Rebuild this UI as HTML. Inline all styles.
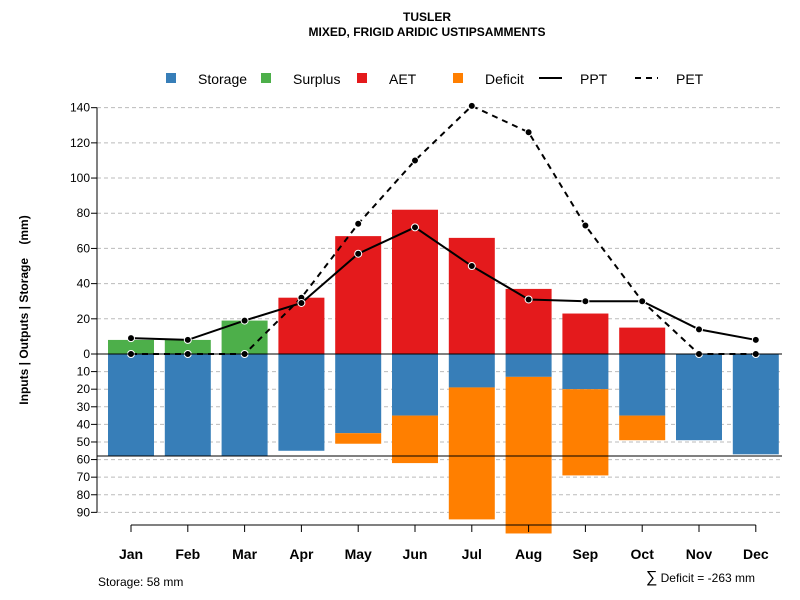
<!DOCTYPE html>
<html><head><meta charset="utf-8"><style>
body{margin:0;background:#fff;}
svg{display:block;font-family:"Liberation Sans",sans-serif;}
</style></head><body>
<svg id="c" width="800" height="600">
<text x="427" y="21" text-anchor="middle" font-size="12" font-weight="bold">TUSLER</text>
<text x="427" y="36" text-anchor="middle" font-size="12" font-weight="bold">MIXED, FRIGID ARIDIC USTIPSAMMENTS</text>
<g id="legend" font-size="14">
<rect x="166" y="73" width="10" height="10" fill="#377EB8"/><text x="198" y="84">Storage</text>
<rect x="261" y="73" width="10" height="10" fill="#4DAF4A"/><text x="293" y="84">Surplus</text>
<rect x="357" y="73" width="10" height="10" fill="#E41A1C"/><text x="389" y="84">AET</text>
<rect x="453" y="73" width="10" height="10" fill="#FF7F00"/><text x="485" y="84">Deficit</text>
<line x1="539" y1="78" x2="562" y2="78" stroke="#000" stroke-width="2"/><text x="580" y="84">PPT</text>
<line x1="635" y1="78" x2="658" y2="78" stroke="#000" stroke-width="2" stroke-dasharray="6,5"/><text x="676" y="84">PET</text>
</g>
<g id="grid"></g><g id="bars"></g><g id="lines"></g><g id="axes"></g>
<text transform="translate(28,310) rotate(-90)" text-anchor="middle" font-size="12" font-weight="bold" style="white-space:pre">Inputs | Outputs | Storage    (mm)</text>
<text x="98" y="586" font-size="12">Storage: 58 mm</text>
<text x="755" y="582" text-anchor="end" font-size="12"><tspan font-size="16">∑</tspan> Deficit = -263 mm</text>
</svg>
<script>
const months=["Jan","Feb","Mar","Apr","May","Jun","Jul","Aug","Sep","Oct","Nov","Dec"];
const storage=[58,58,58,55,45,35,19,13,20,35,49,57];
const deficit=[0,0,0,0,6,27,75,89,49,14,0,0];
const surplus=[8,8,19,0,0,0,0,0,0,0,0,0];
const aet=[0,0,0,32,67,82,66,37,23,15,0,0];
const ppt=[9,8,19,29,57,72,50,31,30,30,14,8];
const pet=[0,0,0,32,74,110,141,126,73,30,0,0];
const upTicks=[0,20,40,60,80,100,120,140];
const downTicks=[10,20,30,40,50,60,70,80,90];
const storageCap=58;
const NS="http://www.w3.org/2000/svg";
const y=v=>354-v*1.7595;
const x=i=>131+i*56.8;
function mk(p,t,a){const e=document.createElementNS(NS,t);for(const k in a)e.setAttribute(k,a[k]);document.getElementById(p).appendChild(e);return e;}
upTicks.forEach(t=>{if(t>0){const g=mk('grid','line',{x1:97,x2:782,y1:y(t),y2:y(t),stroke:'#bbb','stroke-dasharray':'4,3'});

}
const l=mk('axes','text',{x:90,y:y(t)+4,'text-anchor':'end','font-size':12});l.textContent=t;


mk('axes','line',{x1:91,x2:97,y1:y(t),y2:y(t),stroke:'#000'});});
downTicks.forEach(t=>{const g=mk('grid','line',{x1:97,x2:782,y1:y(-t),y2:y(-t),stroke:'#bbb','stroke-dasharray':'4,3'});


const l=mk('axes','text',{x:90,y:y(-t)+4,'text-anchor':'end','font-size':12});l.textContent=t;


mk('axes','line',{x1:91,x2:97,y1:y(-t),y2:y(-t),stroke:'#000'});});
mk('axes','line',{x1:97,x2:97,y1:y(140),y2:y(-90),stroke:'#000'});
const bw=46;
months.forEach((m,i)=>{
 const add=(v0,v1,c,n)=>{if(v1===v0)return;const r=mk('bars','rect',{x:x(i)-bw/2,y:Math.min(y(v0),y(v1)),width:bw,height:Math.abs(y(v1)-y(v0)),fill:c});
 
 };
 add(0,-storage[i],'#377EB8','storage');
 add(-storage[i],-storage[i]-deficit[i],'#FF7F00','deficit');
 add(0,surplus[i],'#4DAF4A','surplus');
 add(surplus[i],surplus[i]+aet[i],'#E41A1C','aet');
 mk('axes','line',{x1:x(i),x2:x(i),y1:525,y2:532,stroke:'#000'});
 const l=mk('axes','text',{x:x(i),y:559,'text-anchor':'middle','font-size':14,'font-weight':'bold'});l.textContent=m;
 
 
});
mk('axes','line',{x1:97,x2:782,y1:y(0),y2:y(0),stroke:'#000'});
mk('axes','line',{x1:97,x2:782,y1:y(-storageCap),y2:y(-storageCap),stroke:'#000'});
mk('axes','line',{x1:x(0),x2:x(11),y1:525,y2:525,stroke:'#000'});
[[pet,'6,5','pet'],[ppt,'','ppt']].forEach(([d,da,n])=>{
 const p=mk('lines','polyline',{points:d.map((v,i)=>x(i)+','+y(v)).join(' '),fill:'none',stroke:'#000','stroke-width':2,'stroke-dasharray':da});
 
 
 d.forEach((v,i)=>{const c=mk('lines','circle',{cx:x(i),cy:y(v),r:3.5,fill:'#000',stroke:'#fff','stroke-width':1});
 
 });
});
</script>
</body></html>
